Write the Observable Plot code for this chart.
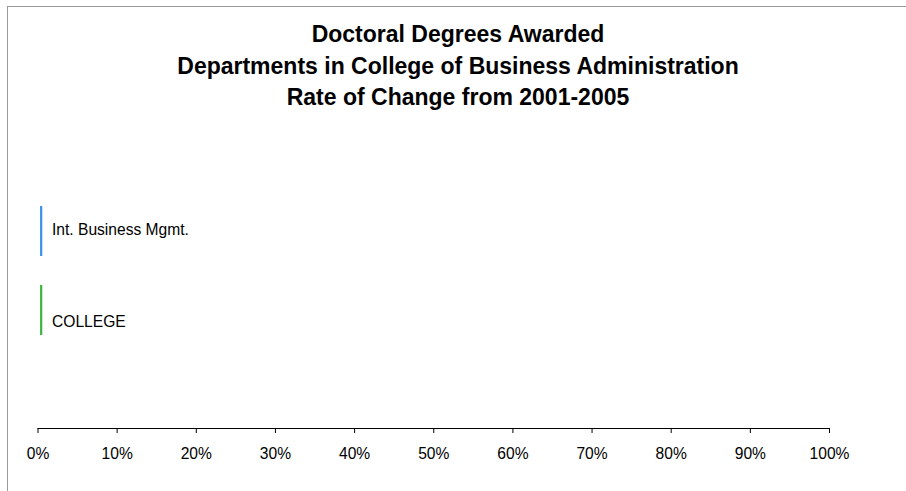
<!DOCTYPE html>
<html>
<head>
<meta charset="utf-8">
<script src="https://cdn.jsdelivr.net/npm/d3@7"></script>
<script src="https://cdn.jsdelivr.net/npm/@observablehq/plot@0.6"></script>
<style>
  html, body { margin: 0; padding: 0; background: #fff; overflow: hidden; }
  #wrap { position: relative; width: 906px; height: 491px; overflow: hidden; font-family: "Liberation Sans", Arial, sans-serif; }
  #frame { position: absolute; left: 7px; top: 6px; width: 1200px; height: 1200px; border: 1px solid #9a9a9a; box-sizing: border-box; }
  #title { position: absolute; left: 3px; top: 19px; width: 910px; text-align: center; font-weight: bold; font-size: 23px; line-height: 31.5px; color: #000; }
  #chart { position: absolute; left: 0; top: 120px; }
</style>
</head>
<body>
<div id="wrap">
  <div id="frame"></div>
  <div id="title">Doctoral Degrees Awarded<br>Departments in College of Business Administration<br>Rate of Change from 2001-2005</div>
  <div id="chart"></div>
</div>
<script>
const departments = ["Int. Business Mgmt.", "COLLEGE"];
const rates = [0.004, 0.004];
const colors = ["#3b8fe6", "#3db43d"];
const labelOffsets = [-2, 11];
const xTicks = [0, 0.1, 0.2, 0.3, 0.4, 0.5, 0.6, 0.7, 0.8, 0.9, 1.0];

const data = departments.map((d, i) => ({dept: d, rate: rates[i], color: colors[i], dy: labelOffsets[i]}));

const plot = Plot.plot({
  width: 906,
  height: 371,
  marginLeft: 37.5,
  marginRight: 77,
  marginTop: 0,
  marginBottom: 63,
  style: {fontFamily: "'Liberation Sans', Arial, sans-serif", fontSize: "15.6px", color: "#000", background: "transparent", overflow: "visible"},
  x: {domain: [0, 1], ticks: xTicks, label: null, tickFormat: d => Math.round(d * 100) + "%"},
  y: {domain: departments, range: [86, 215], paddingInner: 0.37, paddingOuter: 0, axis: null},
  marks: [
    Plot.frame({anchor: "bottom", stroke: "#000", strokeWidth: 1}),
    Plot.axisX({ticks: xTicks, label: null, tickSize: 5, tickPadding: 14, tickFormat: d => Math.round(d * 100) + "%", fontSize: 15.6, stroke: "#000", fill: "#000"}),
    Plot.tickX(data, {x: "rate", y: "dept", stroke: "color", strokeWidth: 2.2, inset: 0}),
    ...data.map(d => Plot.text([d], {x: 0, y: "dept", text: "dept", textAnchor: "start", dx: 14, dy: d.dy, fontSize: 15.6, fill: "#000"}))
  ]
});
document.getElementById("chart").appendChild(plot);
</script>
</body>
</html>
